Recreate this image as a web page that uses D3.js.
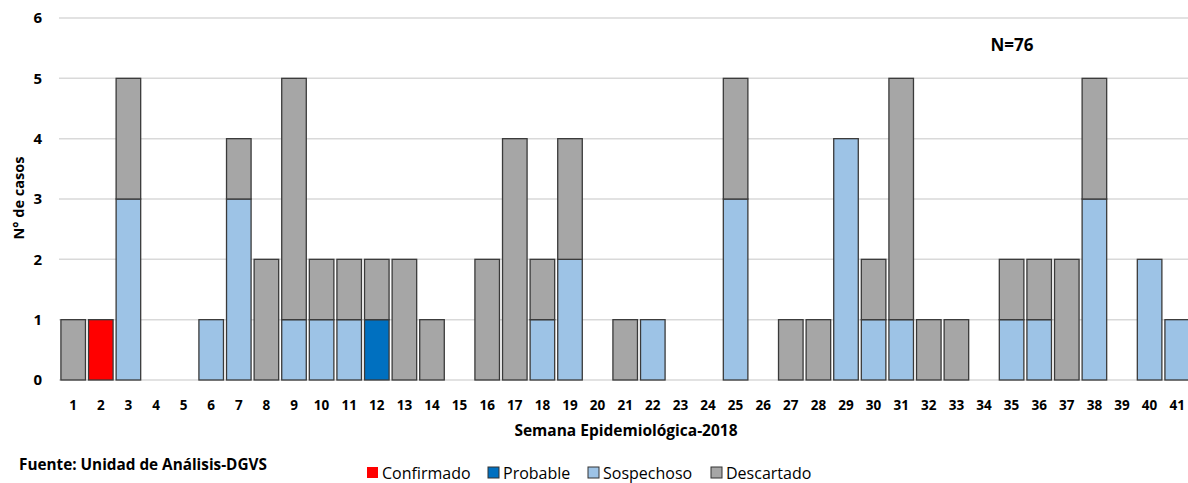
<!DOCTYPE html>
<html><head><meta charset="utf-8">
<script src="https://cdn.jsdelivr.net/npm/d3@7"></script>
<style>body{margin:0;background:#fff;}svg{display:block;}</style>
</head><body>
<script>
const weeks = d3.range(1, 42).map(String);
const confirmado = [0,1,0,0,0,0,0,0,0,0,0,0,0,0,0,0,0,0,0,0,0,0,0,0,0,0,0,0,0,0,0,0,0,0,0,0,0,0,0,0,0];
const probable   = [0,0,0,0,0,0,0,0,0,0,0,1,0,0,0,0,0,0,0,0,0,0,0,0,0,0,0,0,0,0,0,0,0,0,0,0,0,0,0,0,0];
const sospechoso = [0,0,3,0,0,1,3,0,1,1,1,0,0,0,0,0,0,1,2,0,0,1,0,0,3,0,0,0,4,1,1,0,0,0,1,1,0,3,0,2,1];
const descartado = [1,0,2,0,0,0,1,2,4,1,1,1,2,1,0,2,4,1,2,0,1,0,0,0,2,0,1,1,0,1,4,1,1,0,1,1,2,2,0,0,0];
const seriesNames = ["Confirmado","Probable","Sospechoso","Descartado"];
const colors = ["#ff0000","#0070c0","#9dc3e6","#a6a6a6"];
const yTicks = [0,1,2,3,4,5,6];

const W = 1188, H = 483;
const svg = d3.select("body").append("svg").attr("width", W).attr("height", H);
const font = "'Open Sans', sans-serif";

const x = d3.scaleBand().domain(weeks).range([59.4, 1191]).paddingInner(0.11).paddingOuter(0.055);
const y = d3.scaleLinear().domain([0, 6]).range([380, 18]);

// gridlines
svg.append("g").selectAll("line").data(yTicks).join("line")
  .attr("x1", 59).attr("x2", W).attr("y1", d => y(d)).attr("y2", d => y(d))
  .attr("stroke", "#d9d9d9").attr("stroke-width", 1.5);

// y tick labels
svg.append("g").selectAll("text").data(yTicks).join("text")
  .attr("x", 42).attr("y", d => y(d)).attr("dy", "0.36em").attr("text-anchor", "end")
  .attr("font-family", font).attr("font-weight", "bold").attr("font-size", 15).attr("fill", "#000")
  .text(d => d);

// stacked data
const table = weeks.map((w, i) => ({week: w, Confirmado: confirmado[i], Probable: probable[i], Sospechoso: sospechoso[i], Descartado: descartado[i]}));
const stacked = d3.stack().keys(seriesNames)(table);

svg.append("g").selectAll("g").data(stacked).join("g")
  .attr("fill", (d, i) => colors[i])
  .selectAll("rect").data(d => d.filter(s => s[1] > s[0])).join("rect")
  .attr("x", d => x(d.data.week)).attr("width", x.bandwidth())
  .attr("y", d => y(d[1])).attr("height", d => y(d[0]) - y(d[1]))
  .attr("stroke", "#3a3a3a").attr("stroke-width", 1.3);

// x tick labels
svg.append("g").selectAll("text").data(weeks).join("text")
  .attr("x", d => x(d) + x.bandwidth() / 2).attr("y", 405).attr("dy", "0.36em").attr("text-anchor", "middle")
  .attr("font-family", font).attr("font-weight", "bold").attr("font-size", 13.5).attr("fill", "#000")
  .text(d => d);

// axis titles
svg.append("text").attr("x", 626).attr("y", 436).attr("text-anchor", "middle")
  .attr("font-family", font).attr("font-weight", "bold").attr("font-size", 15.5).text("Semana Epidemiológica-2018");
svg.append("text").attr("transform", "translate(24,198) rotate(-90)").attr("text-anchor", "middle")
  .attr("font-family", font).attr("font-weight", "bold").attr("font-size", 14.5).text("N° de casos");

// N annotation
svg.append("text").attr("x", 1012).attr("y", 51).attr("text-anchor", "middle")
  .attr("font-family", font).attr("font-weight", "bold").attr("font-size", 17).text("N=76");

// source
svg.append("text").attr("x", 19).attr("y", 470)
  .attr("font-family", font).attr("font-weight", "bold").attr("font-size", 15.3).text("Fuente: Unidad de Análisis-DGVS");

// legend
const legX = [367, 488, 588, 711];
const leg = svg.append("g").selectAll("g").data(seriesNames).join("g")
  .attr("transform", (d, i) => `translate(${legX[i]},467)`);
leg.append("rect").attr("x", 0).attr("y", 0).attr("width", 11).attr("height", 11)
  .attr("fill", (d, i) => colors[i]).attr("stroke", (d, i) => i === 0 ? "none" : "#333").attr("stroke-width", 1);
leg.append("text").attr("x", 15).attr("y", 6).attr("dy", "0.36em")
  .attr("font-family", font).attr("font-size", 16).attr("fill", "#000").text(d => d);
</script>
</body></html>
